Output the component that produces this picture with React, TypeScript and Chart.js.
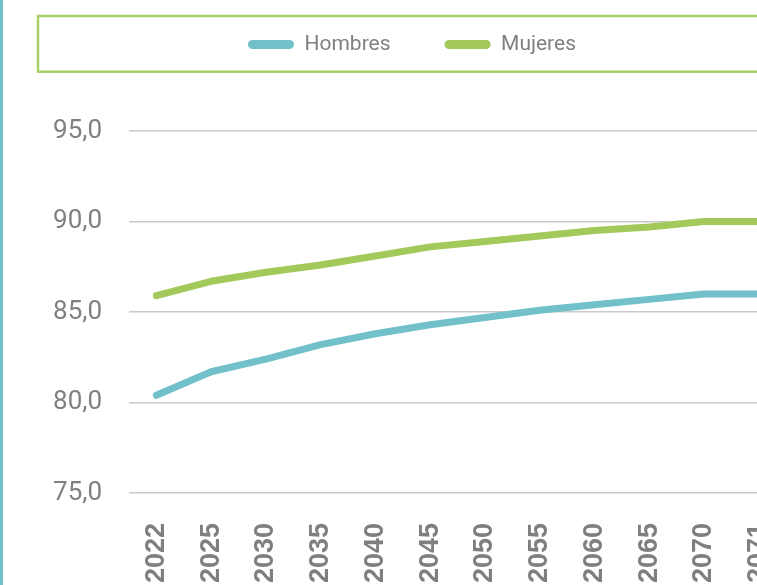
import React, { useEffect, useRef } from "react";
import { Chart, registerables } from "chart.js";

Chart.register(...registerables);

const years = ["2022", "2025", "2030", "2035", "2040", "2045", "2050", "2055", "2060", "2065", "2070", "2071"];
const hombres = [80.4, 81.7, 82.4, 83.2, 83.8, 84.3, 84.7, 85.1, 85.4, 85.7, 86.0, 86.0];
const mujeres = [85.9, 86.7, 87.2, 87.6, 88.1, 88.6, 88.9, 89.2, 89.5, 89.7, 90.0, 90.0];
const yMin = 75;
const yMax = 98.65;
const yStep = 5;

const TEAL = "#72C1CA";
const GREEN = "#A3C95B";
const FRAME_GREEN = "#A8CE66";
const GRAY = "#808080";

const CW = 800;
const CH = 613;
const SHIFT = 20;

const framePlugin = {
  id: "frame",
  beforeDraw(chart: any) {
    const ctx = chart.ctx;
    ctx.save();
    ctx.fillStyle = "#ffffff";
    ctx.fillRect(0, 0, chart.width, chart.height);
    ctx.strokeStyle = TEAL;
    ctx.lineWidth = 3;
    ctx.beginPath();
    ctx.moveTo(1.5, 0);
    ctx.lineTo(1.5, chart.height);
    ctx.stroke();
    ctx.strokeStyle = FRAME_GREEN;
    ctx.lineWidth = 2.5;
    ctx.strokeRect(38, 16 + SHIFT, chart.width, 55.7);
    ctx.restore();
  },
};

export default function App() {
  const ref = useRef<HTMLCanvasElement | null>(null);
  useEffect(() => {
    if (!ref.current) return;
    const chart = new Chart(ref.current, {
      type: "line",
      data: {
        labels: years,
        datasets: [
          {
            label: "Hombres",
            data: hombres,
            borderColor: TEAL,
            backgroundColor: TEAL,
            borderWidth: 7,
            borderCapStyle: "round",
            borderJoinStyle: "round",
            pointRadius: 0,
            tension: 0,
          },
          {
            label: "Mujeres",
            data: mujeres,
            borderColor: GREEN,
            backgroundColor: GREEN,
            borderWidth: 7,
            borderCapStyle: "round",
            borderJoinStyle: "round",
            pointRadius: 0,
            tension: 0,
          },
        ],
      },
      options: {
        animation: false,
        responsive: false,
        maintainAspectRatio: false,
        devicePixelRatio: 1,
        layout: { padding: { left: 38, right: 14, top: 0, bottom: 0 } },
        plugins: {
          tooltip: { enabled: false },
          legend: {
            position: "top",
            labels: {
              boxWidth: 46,
              boxHeight: 9,
              padding: 54,
              useBorderRadius: true,
              borderRadius: 4.5,
              color: GRAY,
              font: { family: "Roboto", size: 21 },
              generateLabels: (c: any) =>
                (Chart.defaults.plugins.legend.labels.generateLabels as any)(c).map((l: any) => ({
                  ...l,
                  lineWidth: 0,
                  borderRadius: 4.5,
                })),
            },
          },
        },
        scales: {
          x: {
            offset: true,
            grid: { display: false, drawTicks: false },
            border: { display: false },
            ticks: {
              autoSkip: false,
              minRotation: 90,
              maxRotation: 90,
              padding: 30,
              color: "#7f7f7f",
              font: { family: "Liberation Sans", size: 27, weight: "bold" },
            },
            afterFit: (s: any) => {
              s.height = 100;
              s.paddingLeft = 0;
              s.paddingRight = 0;
            },
          },
          y: {
            min: yMin,
            max: yMax,
            grid: { color: "#c9c9c9", lineWidth: 1.5, drawTicks: false },
            border: { display: false },
            ticks: {
              stepSize: yStep,
              includeBounds: false,
              padding: 27,
              color: GRAY,
              font: { family: "Roboto", size: 26 },
              callback: (v: any) => Number(v).toFixed(1).replace(".", ","),
            },
            afterFit: (s: any) => {
              s.width = 91;
            },
          },
        },
      },
      plugins: [framePlugin],
    } as any);
    return () => chart.destroy();
  }, []);

  return (
    <div
      style={{
        position: "fixed",
        left: 0,
        top: 0,
        width: 757,
        height: 585,
        overflow: "hidden",
        background: "#ffffff",
      }}
    >
      <canvas
        ref={ref}
        width={CW}
        height={CH}
        style={{ position: "absolute", left: 0, top: -SHIFT, width: CW, height: CH }}
      />
    </div>
  );
}
